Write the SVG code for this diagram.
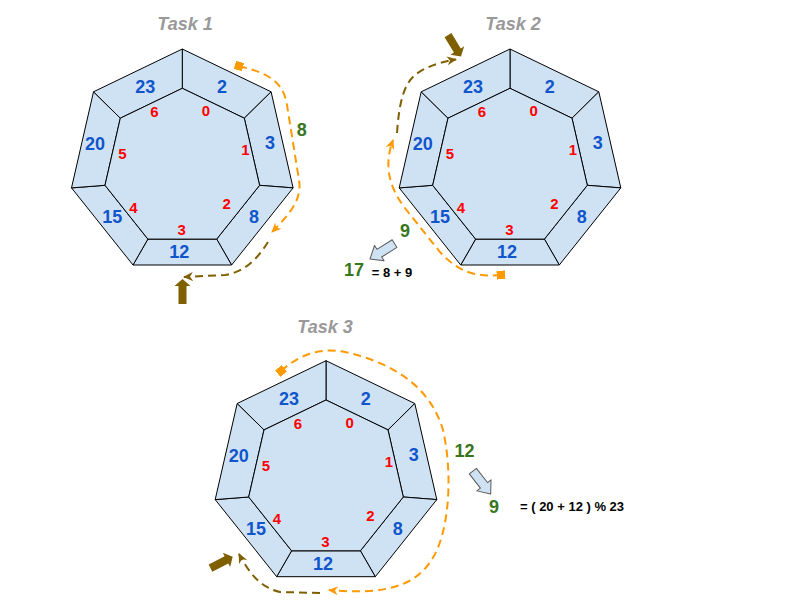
<svg xmlns="http://www.w3.org/2000/svg" xmlns:xlink="http://www.w3.org/1999/xlink" width="800" height="600" viewBox="0 0 800 600">
<style>
text{font-family:"Liberation Sans",Arial,sans-serif;font-weight:bold;text-anchor:middle}
.seg{fill:#cfe2f3;stroke:#000;stroke-width:1;stroke-linejoin:round}
.title{font-size:18px;font-style:italic;fill:#999999}
.out{font-size:18px;fill:#1155cc}
.idx{font-size:15px;fill:#ff0000}
.grn{font-size:18px;fill:#38761d}
.eq{font-size:13px;fill:#000;text-anchor:start}
.dor{fill:none;stroke:#ff9900;stroke-width:2;stroke-dasharray:8 5}
.dbr{fill:none;stroke:#7f6000;stroke-width:2;stroke-dasharray:8 5}
.thick{fill:#7f6000}
.lb{fill:#cfe2f3;stroke:#595959;stroke-width:1;stroke-linejoin:round}
</style>
<defs>
<marker id="hOr" viewBox="0 0 10 10" refX="9" refY="5" markerWidth="10" markerHeight="10" markerUnits="userSpaceOnUse" orient="auto">
<path d="M0,0.5 L10,5 L0,9.5 L3,5 z" fill="#ff9900"/>
</marker>
<marker id="hBr" viewBox="0 0 10 10" refX="9" refY="5" markerWidth="10" markerHeight="10" markerUnits="userSpaceOnUse" orient="auto">
<path d="M0,0.5 L10,5 L0,9.5 L3,5 z" fill="#7f6000"/>
</marker>
<marker id="sq" viewBox="0 0 10 10" refX="5" refY="5" markerWidth="8.5" markerHeight="8.5" markerUnits="userSpaceOnUse" orient="auto">
<rect x="0" y="0" width="10" height="10" fill="#ff9900"/>
</marker>
<g id="hept">
<polygon class="seg" points="0,-113.6 88.8,-70.8 62,-44.4 0,-74.3"/>
<polygon class="seg" points="88.8,-70.8 110.8,25.3 77.3,22.7 62,-44.4"/>
<polygon class="seg" points="110.8,25.3 49.3,102.4 34.4,76.5 77.3,22.7"/>
<polygon class="seg" points="49.3,102.4 -49.3,102.4 -34.4,76.5 34.4,76.5"/>
<polygon class="seg" points="-49.3,102.4 -110.8,25.3 -77.3,22.7 -34.4,76.5"/>
<polygon class="seg" points="-110.8,25.3 -88.8,-70.8 -62,-44.4 -77.3,22.7"/>
<polygon class="seg" points="-88.8,-70.8 0,-113.6 0,-74.3 -62,-44.4"/>
<polygon class="seg" points="0,-74.3 62,-44.4 77.3,22.7 34.4,76.5 -34.4,76.5 -77.3,22.7 -62,-44.4"/>
<text class="out" x="-37" y="-69.6">23</text>
<text class="out" x="39.7" y="-69.2">2</text>
<text class="out" x="87.7" y="-13.2">3</text>
<text class="out" x="71.7" y="60.8">8</text>
<text class="out" x="-3" y="95.5">12</text>
<text class="out" x="-70" y="60.5">15</text>
<text class="out" x="-87.3" y="-12.2">20</text>
<text class="idx" x="-28" y="-45.6">6</text>
<text class="idx" x="23.7" y="-46.2">0</text>
<text class="idx" x="63" y="-7.2">1</text>
<text class="idx" x="44.4" y="46.8">2</text>
<text class="idx" x="-0.6" y="72.8">3</text>
<text class="idx" x="-49" y="50.1">4</text>
<text class="idx" x="-60" y="-3.2">5</text>
</g>
<polygon id="bigArrow" class="thick" points="0,0 -7,-8 -7,-4 -25,-4 -25,4 -7,4 -7,8"/>
<polygon id="lbArrow" class="lb" points="0,0 -11,-9 -11,-4.5 -29,-4.5 -29,4.5 -11,4.5 -11,9"/>
</defs>

<g id="task1">
<text class="title" x="185" y="30.4">Task 1</text>
<use xlink:href="#hept" href="#hept" transform="translate(182.3,162.6)"/>
</g>
<g id="task2">
<text class="title" x="513" y="30.4">Task 2</text>
<use xlink:href="#hept" href="#hept" transform="translate(510,162.6)"/>
</g>
<g id="task3">
<text class="title" x="325" y="333">Task 3</text>
<use xlink:href="#hept" href="#hept" transform="translate(326,474.3)"/>
</g>

<g id="connectors">
<path class="dor" d="M239,66 C262,72 283,78 287,105 L299,180 C302,198 292,212 272,232" marker-start="url(#sq)" marker-end="url(#hOr)"/>
<path class="dbr" d="M268,242 C258,258 245,272 225,275 L184,277" marker-end="url(#hBr)"/>
<use xlink:href="#bigArrow" href="#bigArrow" transform="translate(182.5,279) rotate(-90)"/>

<path class="dor" d="M501,275 C470,278 455,268 440,252 L408,212 C392,192 382,170 393,140" marker-start="url(#sq)" marker-end="url(#hOr)"/>
<path class="dbr" d="M397,133 C399,105 403,85 415,75 C425,67 440,62 456,59.5" marker-end="url(#hBr)"/>
<use xlink:href="#bigArrow" href="#bigArrow" transform="translate(461,56.5) rotate(58.6)"/>
<use xlink:href="#lbArrow" href="#lbArrow" transform="translate(370,259) rotate(147.9)"/>

<path class="dor" d="M281,371 Q310,345 345,352 C390,362 430,385 443,430 C452,470 450,520 437,550 C422,582 395,596 329,590" marker-start="url(#sq)" marker-end="url(#hOr)"/>
<path class="dbr" d="M320,593 L280,592 C262,588 250,575 239,554" marker-end="url(#hBr)"/>
<use xlink:href="#bigArrow" href="#bigArrow" transform="translate(232.7,556.7) rotate(-27.3)"/>
<use xlink:href="#lbArrow" href="#lbArrow" transform="translate(490.7,494) rotate(52)"/>
</g>

<g id="labels">
<text class="grn" x="301.7" y="136.4">8</text>
<text class="grn" x="405" y="237">9</text>
<text class="grn" x="354" y="276.4">17</text>
<text class="eq" x="371.7" y="276.6">= 8 + 9</text>
<text class="grn" x="464.5" y="457.4">12</text>
<text class="grn" x="494" y="513">9</text>
<text class="eq" x="520" y="511.3">= ( 20 + 12 ) % 23</text>
</g>
</svg>
